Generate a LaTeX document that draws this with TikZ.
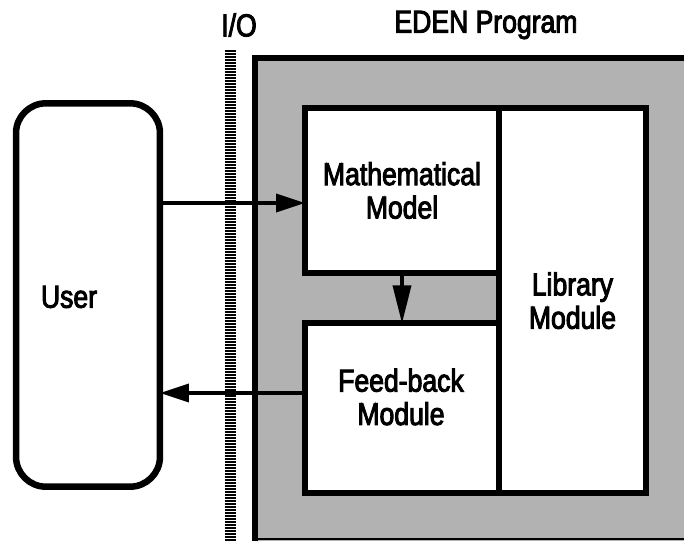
\documentclass[tikz,border=0pt]{standalone}
\usepackage{fontspec}
\setmainfont{Liberation Sans}[FakeStretch=0.84,FakeBold=3]
\usetikzlibrary{positioning,arrows.meta}
\tikzset{
	modbox/.style={
		rectangle,
		draw,
		line width=0.12cm,
		outer sep=0pt,
		inner sep=0pt,
		fill=white
	}
}

\begin{document}
\begin{tikzpicture}[x=0.02cm,y=-0.02cm]
		\tikzstyle{txt}=[font=\fontsize{18}{19}\selectfont, align=center]
		\tikzstyle{connect}=[line width=0.07cm, -{Triangle[length=0.58cm,width=0.36cm]}]
		\useasboundingbox (0,0) rectangle (684,541);
		% program area
		\fill[black!30] (255,58) rectangle (684,541);
		\draw[line width=0.12cm] (684,58) -- (255,58) -- (255,541);
		\draw[line width=0.04cm] (255,539) -- (684,539);
		% I/O bar
		\foreach \y in {51,54,...,540}
			\draw[line width=0.036cm] (225,\y) -- (236,\y);
		\node[txt] (io) at (239,25) {I/O};
		\node[txt] (eden) at (486,25) {EDEN Program};
		\node[modbox, rounded corners=0.6cm, line width=0.13cm, minimum width=2.88cm, minimum height=7.67cm] (user) at (88,295) {};
		\node[txt] (usertext) at (69,297) {User};
		\node[modbox, txt, minimum width=3.88cm, minimum height=3.30cm] (math) at (402,190.5) {Mathematical\\Model};
		\node[modbox, minimum width=3.88cm, minimum height=3.40cm, below=1.01cm of math] (feedback) {};
		\node[txt] (feedtext) at (401,397) {Feed-back\\Module};
		\node[modbox, txt, minimum width=2.94cm, minimum height=7.71cm, anchor=north west] (library) at (math.north east) {Library\\Module};
		\coordinate (upper) at (0,203);
		\coordinate (lower) at (0,393);
		
		\draw[connect] (user.east |- upper) -- (math.west |- upper);
		\path (math.south) edge [connect, -{Triangle[length=0.76cm,width=0.36cm]}] (feedback.north);
		\draw[connect] (feedback.west |- lower) -- (user.east |- lower);
		
\end{tikzpicture}
\end{document}
